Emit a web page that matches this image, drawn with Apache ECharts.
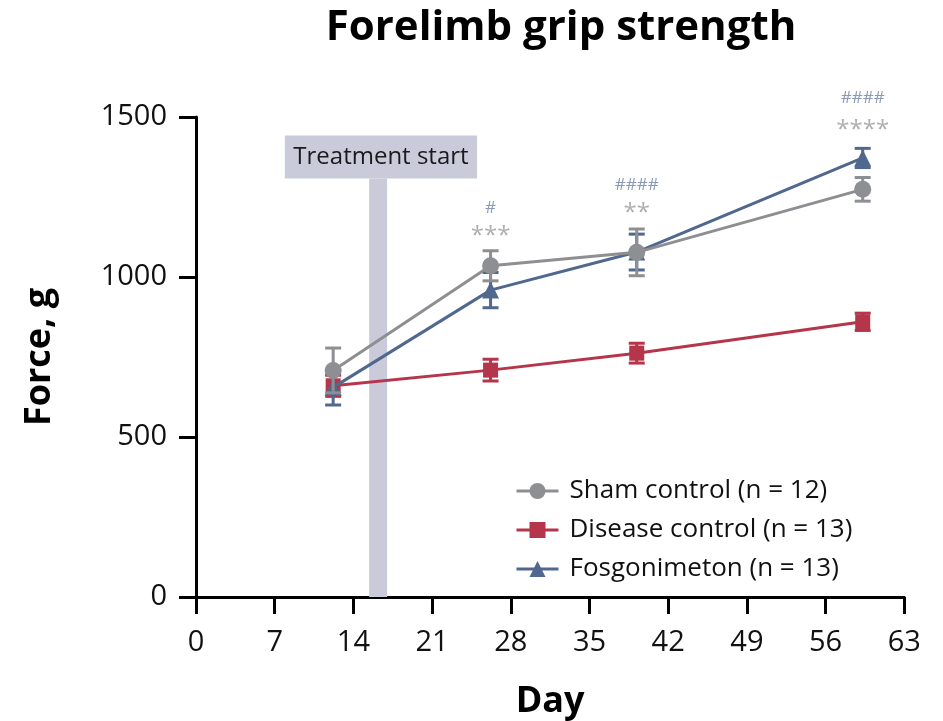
<!DOCTYPE html>
<html>
<head>
<meta charset="utf-8">
<script src="https://cdn.jsdelivr.net/npm/echarts@6/dist/echarts.min.js"></script>
<style>html,body{margin:0;padding:0;background:#fff;}#c{width:943px;height:721px;}</style>
</head>
<body>
<div id="c"></div>
<script>
// ---- data ----
const days = [12.2, 26.2, 39.2, 59.3];
const shamMean = [708, 1035, 1077, 1274];
const shamErr = [70, 47, 73, 37];
const diseaseMean = [660, 709, 762, 860];
const diseaseErr = [33, 34, 31, 27];
const fosMean = [655, 959, 1078, 1372];
const fosErr = [55, 55, 56, 30];

const seriesNames = ['Sham control (n = 12)', 'Disease control (n = 13)', 'Fosgonimeton (n = 13)'];

const sigDays = [26.2, 39.2, 59.3];
const starLabels = ['***', '**', '****'];
const starY = [1128, 1200, 1459];
const hashLabels = ['#', '####', '####'];
const hashY = [1215, 1287, 1559];

const treatmentBandX = [15.4, 17.0];
const treatmentBandY = [0, 1308];
const treatmentBoxX = [7.9, 25.0];
const treatmentBoxY = [1308, 1442];
const treatmentText = 'Treatment start';

const xTicks = [0, 63, 7];   // min, max, interval
const yTicks = [0, 1500, 500];

// ---- style ----
const FONT = 'Open Sans';
const C_SHAM = '#8e8f92', C_DIS = '#b5354b', C_FOS = '#51688e', C_BAND = '#c9cbdb';

function errData(mean, err) { return days.map((d, i) => [d, mean[i] - err[i], mean[i] + err[i]]); }
function errSeries(mean, err, color, z) {
  return {
    type: 'custom', z: z, silent: true,
    encode: { x: 0, y: [1, 2] },
    data: errData(mean, err),
    renderItem: function (params, api) {
      const x = api.value(0), lo = api.value(1), hi = api.value(2);
      const a = api.coord([x, hi]), b = api.coord([x, lo]);
      const hw = 8;
      const st = { stroke: color, lineWidth: 3 };
      return { type: 'group', children: [
        { type: 'line', shape: { x1: a[0], y1: a[1], x2: b[0], y2: b[1] }, style: st },
        { type: 'line', shape: { x1: a[0] - hw, y1: a[1], x2: a[0] + hw, y2: a[1] }, style: st },
        { type: 'line', shape: { x1: b[0] - hw, y1: b[1], x2: b[0] + hw, y2: b[1] }, style: st }
      ]};
    }
  };
}
function lineSeries(name, mean, color, symbol, size, z) {
  return {
    name: name, type: 'line', z: z,
    data: days.map((d, i) => [d, mean[i]]),
    symbol: symbol, symbolSize: size, showSymbol: true,
    itemStyle: { color: color }, lineStyle: { color: color, width: 3 },
    emphasis: { disabled: true }
  };
}
function labelSeries(ys, labels, color, size, z) {
  return {
    type: 'scatter', z: z, clip: false, symbol: 'circle', symbolSize: 1, silent: true,
    itemStyle: { color: 'rgba(255,255,255,0)' },
    data: sigDays.map((d, i) => ({ value: [d, ys[i]], label: { formatter: labels[i] } })),
    label: { show: true, position: 'inside', color: color, fontSize: size, fontFamily: FONT }
  };
}

const chart = echarts.init(document.getElementById('c'));
chart.setOption({
  animation: false,
  backgroundColor: '#fff',
  title: {
    text: 'Forelimb grip strength', left: 556, top: 2, textAlign: 'center',
    textStyle: { fontFamily: FONT, fontWeight: 'bold', fontSize: 42, color: '#000' }
  },
  legend: {
    data: seriesNames, orient: 'vertical', left: 510, top: 471,
    itemWidth: 42, itemHeight: 20, itemGap: 9,
    lineStyle: { width: 3 },
    textStyle: { fontFamily: FONT, fontSize: 26, color: '#111', lineHeight: 30, padding: [0, 0, 0, 6] }
  },
  grid: { left: 196, right: 38.7, top: 117, bottom: 124, containLabel: false, outerBoundsMode: 'none' },
  xAxis: {
    type: 'value', min: xTicks[0], max: xTicks[1], interval: xTicks[2],
    name: 'Day', nameLocation: 'middle', nameGap: 87,
    nameTextStyle: { fontFamily: FONT, fontWeight: 'bold', fontSize: 36, color: '#000', verticalAlign: 'top' },
    axisLine: { show: true, onZero: false, lineStyle: { color: '#000', width: 3 } },
    axisTick: { show: true, length: 17, lineStyle: { color: '#000', width: 3 } },
    axisLabel: { margin: 31, fontFamily: FONT, fontSize: 29, color: '#111' },
    splitLine: { show: false }
  },
  yAxis: {
    type: 'value', min: yTicks[0], max: yTicks[1], interval: yTicks[2],
    name: 'Force, g', nameLocation: 'middle', nameGap: 138, nameRotate: 90,
    nameTextStyle: { fontFamily: FONT, fontWeight: 'bold', fontSize: 36, color: '#000' },
    axisLine: { show: true, onZero: false, lineStyle: { color: '#000', width: 3 } },
    axisTick: { show: true, length: 17, lineStyle: { color: '#000', width: 3 } },
    axisLabel: { margin: 29, fontFamily: FONT, fontSize: 29, color: '#111', formatter: function (v) { return String(v); } },
    splitLine: { show: false }
  },
  series: [
    {
      type: 'line', data: [], silent: true, z: 1,
      markArea: {
        silent: true,
        data: [
          [ { xAxis: treatmentBandX[0], yAxis: treatmentBandY[0], itemStyle: { color: C_BAND } },
            { xAxis: treatmentBandX[1], yAxis: treatmentBandY[1] } ],
          [ { xAxis: treatmentBoxX[0], yAxis: treatmentBoxY[0], itemStyle: { color: C_BAND },
              label: { show: true, position: 'inside', formatter: treatmentText, color: '#1a1a1a', fontSize: 24, fontFamily: FONT } },
            { xAxis: treatmentBoxX[1], yAxis: treatmentBoxY[1] } ]
        ],
        label: { show: false }
      }
    },
    errSeries(diseaseMean, diseaseErr, C_DIS, 2),
    lineSeries(seriesNames[1], diseaseMean, C_DIS, 'rect', 15, 3),
    errSeries(fosMean, fosErr, C_FOS, 4),
    lineSeries(seriesNames[2], fosMean, C_FOS, 'triangle', 17, 5),
    errSeries(shamMean, shamErr, C_SHAM, 6),
    lineSeries(seriesNames[0], shamMean, C_SHAM, 'circle', 17, 7),
    labelSeries(starY, starLabels, '#9a9a9a', 24, 8),
    labelSeries(hashY, hashLabels, '#6a7fa8', 17, 8)
  ]
});
</script>
</body>
</html>
